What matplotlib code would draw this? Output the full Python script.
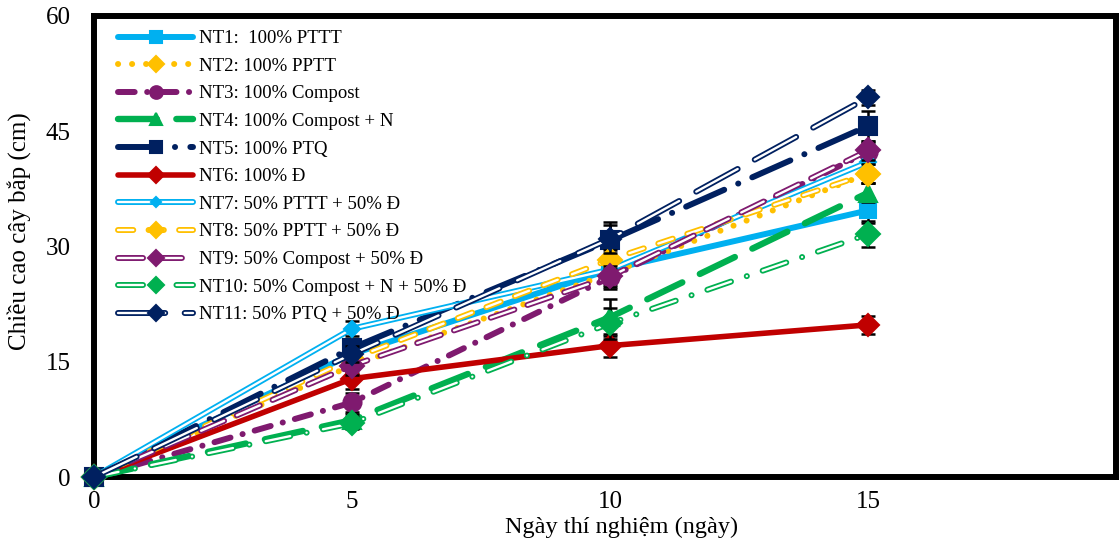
import matplotlib
matplotlib.use("Agg")
import matplotlib.pyplot as plt
from matplotlib.legend_handler import HandlerTuple

plt.rcParams['font.family'] = ['Liberation Serif', 'DejaVu Serif']
plt.rcParams['lines.scale_dashes'] = False

# Days of the experiment
days = [0, 5, 10, 15]

labels = [
    "NT1:  100% PTTT",
    "NT2: 100% PPTT",
    "NT3: 100% Compost",
    "NT4: 100% Compost + N",
    "NT5: 100% PTQ",
    "NT6: 100% Đ",
    "NT7: 50% PTTT + 50% Đ",
    "NT8: 50% PPTT + 50% Đ",
    "NT9: 50% Compost + 50% Đ",
    "NT10: 50% Compost + N + 50% Đ",
    "NT11: 50% PTQ + 50% Đ",
]

# Plant height (cm) for each treatment
nt1 = [0, 16.0, 27.0, 34.7]
nt2 = [0, 14.5, 26.5, 39.5]
nt3 = [0, 9.7, 26.0, 42.3]
nt4 = [0, 7.4, 20.8, 37.0]
nt5 = [0, 16.8, 30.8, 45.7]
nt6 = [0, 12.8, 17.1, 19.8]
nt7 = [0, 19.3, 27.0, 41.0]
nt8 = [0, 15.4, 28.3, 39.5]
nt9 = [0, 14.5, 26.1, 42.5]
nt10 = [0, 7.0, 20.0, 31.6]
nt11 = [0, 16.0, 31.0, 49.4]

# Standard errors
err1 = [0, 1.0, 1.2, 1.6]
err2 = [0, 1.0, 1.5, 1.3]
err3 = [0, 1.2, 1.5, 1.2]
err4 = [0, 0.8, 2.4, 1.2]
err5 = [0, 1.2, 2.4, 2.0]
err6 = [0, 1.4, 1.5, 1.2]
err7 = [0, 1.0, 1.2, 1.0]
err8 = [0, 1.0, 1.2, 1.2]
err9 = [0, 1.2, 1.4, 1.2]
err10 = [0, 0.8, 2.0, 1.7]
err11 = [0, 1.0, 1.8, 1.0]

values = [nt1, nt2, nt3, nt4, nt5, nt6, nt7, nt8, nt9, nt10, nt11]
errors = [err1, err2, err3, err4, err5, err6, err7, err8, err9, err10, err11]

BLUE = "#00B0F0"
YELLOW = "#FFC000"
PURPLE = "#7F1A6F"
GREEN = "#00B050"
NAVY = "#002060"
RED = "#C00000"

# style: color, marker, markersize, linewidth, dashes (None = solid), hollow
styles = [
    dict(c=BLUE, m="s", ms=12, lw=4.3, dash=None, hollow=False),
    dict(c=YELLOW, m="D", ms=11, lw=4.3, dash=(0.1, 10), hollow=False),
    dict(c=PURPLE, m="o", ms=13, lw=4.3, dash=(12, 9, 0.1, 9), hollow=False),
    dict(c=GREEN, m="^", ms=13, lw=4.6, dash=(28, 14), hollow=False),
    dict(c=NAVY, m="s", ms=13, lw=4.3, dash=(30, 11, 0.1, 11), hollow=False),
    dict(c=RED, m="D", ms=11, lw=4.0, dash=None, hollow=False),
    dict(c=BLUE, m="D", ms=8, lw=4.3, dash=None, hollow=True),
    dict(c=YELLOW, m="D", ms=12, lw=4.3, dash=(11, 11), hollow=True),
    dict(c=PURPLE, m="D", ms=12, lw=4.3, dash=(18, 10), hollow=True),
    dict(c=GREEN, m="D", ms=12, lw=4.3, dash=(18, 12, 0.1, 12), hollow=True),
    dict(c=NAVY, m="D", ms=11, lw=4.3, dash=(34, 14), hollow=True),
]

fig = plt.figure(figsize=(11.2, 5.39), dpi=100)
ax = fig.add_axes([94 / 1120, 1 - 477 / 539, 1022 / 1120, 461 / 539])

handles = []
for i, (y, e, st) in enumerate(zip(values, errors, styles)):
    z = 3 + i
    ls_kw = {}
    if st["dash"] is not None:
        ls_kw = dict(dashes=st["dash"])
    # error bars
    ax.errorbar(days, y, yerr=e, fmt="none", ecolor="black", elinewidth=1.8,
                capsize=5, capthick=1.8, zorder=z + 0.2, clip_on=False)
    outer, = ax.plot(days, y, color=st["c"], lw=st["lw"], solid_capstyle="round",
                     dash_capstyle="round", zorder=z, clip_on=False, **ls_kw)
    parts = [outer]
    if st["hollow"]:
        inner, = ax.plot(days, y, color="white", lw=st["lw"] - 2.6,
                         solid_capstyle="round", dash_capstyle="round",
                         zorder=z + 0.1, clip_on=False, **ls_kw)
        parts.append(inner)
    mk, = ax.plot(days, y, ls="none", marker=st["m"], ms=st["ms"],
                  color=st["c"], mec=st["c"], mew=1.5, zorder=z + 0.3,
                  clip_on=False)
    parts.append(mk)
    handles.append(tuple(parts))

ax.set_xlim(0, 19.8)
ax.set_ylim(0, 60)
ax.set_xticks([0, 5, 10, 15])
ax.set_yticks([0, 15, 30, 45, 60])
ax.tick_params(axis="both", length=0, labelsize=18)
ax.tick_params(axis="x", pad=10)
ax.tick_params(axis="y", pad=17)
for s in ax.spines.values():
    s.set_linewidth(4.3)
    s.set_color("black")

ax.set_xlabel("Ngày thí nghiệm (ngày)", fontsize=17.5)
ax.xaxis.label.set_va("center")
ax.xaxis.set_label_coords((622 - 94) / 1022, (477 - 527) / 461)
ax.set_ylabel("Chiều cao cây bắp (cm)", fontsize=18)
ax.yaxis.label.set_va("center")
ax.yaxis.set_label_coords((19 - 94) / 1022, (477 - 231) / 461)

leg = ax.legend(handles, labels, handler_map={tuple: HandlerTuple(ndivide=1)},
                loc="upper left", bbox_to_anchor=(118 / 1120, 1 - 30 / 539),
                bbox_transform=fig.transFigure, frameon=False, fontsize=13.5,
                handlelength=4.0, handletextpad=0.3, labelspacing=0.56,
                borderpad=0, borderaxespad=0, numpoints=1, markerscale=0.7)
leg.set_zorder(20)

fig.savefig("out.png", dpi=100)
